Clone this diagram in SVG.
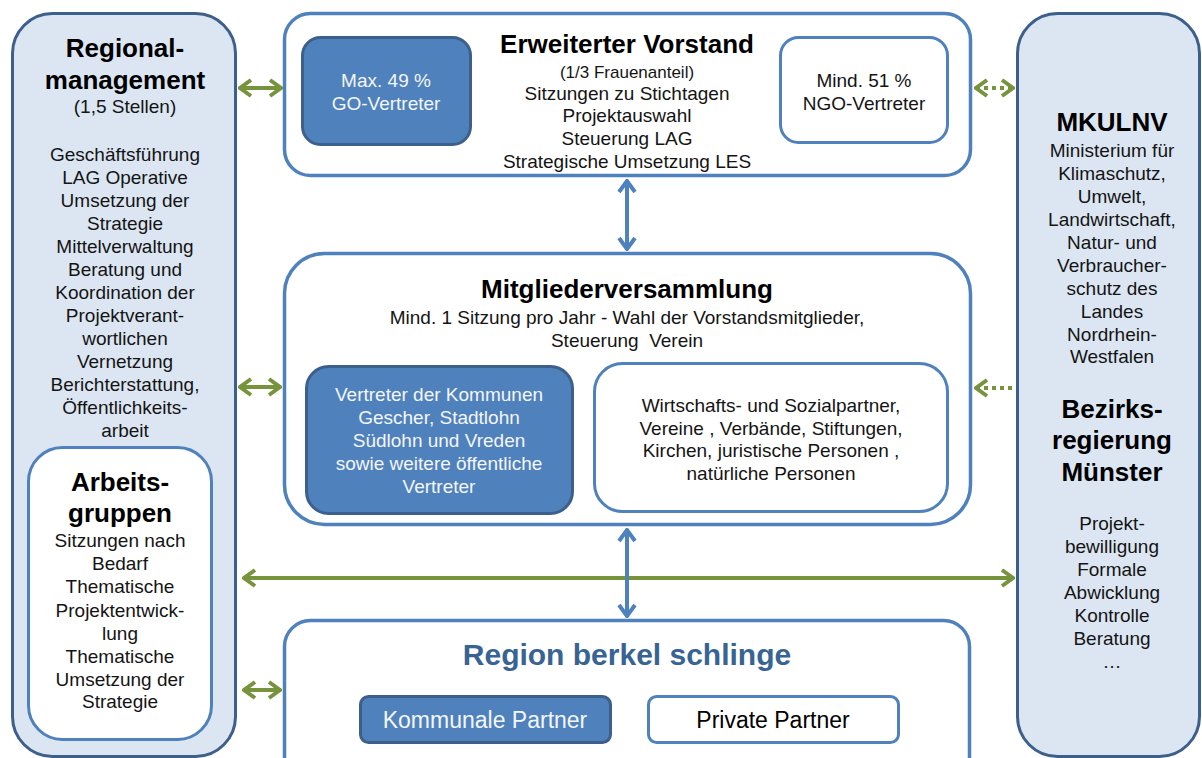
<svg xmlns="http://www.w3.org/2000/svg" width="1202" height="758" viewBox="0 0 1202 758">
<defs>
<style>
.side{fill:#dce6f2;stroke:#3c5f8b;stroke-width:3}
.frame{fill:#ffffff;stroke:#4f81bd;stroke-width:3.5}
.dark{fill:#4f81bd;stroke:#3c5f8b;stroke-width:3}
.light{fill:#ffffff;stroke:#4f81bd;stroke-width:3}
text{font-family:"Liberation Sans",Arial,sans-serif;text-anchor:middle;fill:#141414}
.t{font-size:26px;font-weight:bold;fill:#000}
.b{font-size:19px}
.s{font-size:17px}
.w{font-size:19px;fill:#f4f6fa}
.g{stroke:#77933c;stroke-width:4;fill:none}
.gd{stroke:#77933c;stroke-width:4;fill:none;stroke-dasharray:4 4}
.bl{stroke:#4f81bd;stroke-width:4;fill:none}
</style>
<marker id="ga" viewBox="-14 -10 16 20" markerWidth="16" markerHeight="20" markerUnits="userSpaceOnUse" refX="0" refY="0" orient="auto-start-reverse">
<path d="M-11,-8 L0,0 L-11,8" fill="none" stroke="#77933c" stroke-width="4"/>
</marker>
<marker id="ba" viewBox="-14 -10 16 20" markerWidth="16" markerHeight="20" markerUnits="userSpaceOnUse" refX="0" refY="0" orient="auto-start-reverse">
<path d="M-11,-8 L0,0 L-11,8" fill="none" stroke="#4f81bd" stroke-width="4"/>
</marker>
</defs>

<g id="regionalmanagement">
<rect class="side" x="12.5" y="13.5" width="223" height="743" rx="40"/>
<text class="t" x="125" y="57">Regional-</text>
<text class="t" x="125" y="89">management</text>
<text class="b" x="125" y="113">(1,5 Stellen)</text>
<text class="b" x="125" y="161">Geschäftsführung</text>
<text class="b" x="125" y="184">LAG Operative</text>
<text class="b" x="125" y="207">Umsetzung der</text>
<text class="b" x="125" y="230">Strategie</text>
<text class="b" x="125" y="253">Mittelverwaltung</text>
<text class="b" x="125" y="276">Beratung und</text>
<text class="b" x="125" y="299">Koordination der</text>
<text class="b" x="125" y="322">Projektverant-</text>
<text class="b" x="125" y="345">wortlichen</text>
<text class="b" x="125" y="368">Vernetzung</text>
<text class="b" x="125" y="391">Berichterstattung,</text>
<text class="b" x="125" y="414">Öffentlichkeits-</text>
<text class="b" x="125" y="437">arbeit</text>
</g>

<g id="arbeitsgruppen">
<rect class="light" x="28.5" y="447.5" width="183" height="292" rx="34"/>
<text class="t" x="120" y="491">Arbeits-</text>
<text class="t" x="120" y="522">gruppen</text>
<text class="b" x="120" y="547">Sitzungen nach</text>
<text class="b" x="120" y="570">Bedarf</text>
<text class="b" x="120" y="593">Thematische</text>
<text class="b" x="120" y="617">Projektentwick-</text>
<text class="b" x="120" y="640">lung</text>
<text class="b" x="120" y="663">Thematische</text>
<text class="b" x="120" y="686">Umsetzung der</text>
<text class="b" x="120" y="708">Strategie</text>
</g>

<g id="vorstand">
<rect class="frame" x="284.5" y="13.5" width="686" height="162" rx="26"/>
<text class="t" x="627" y="53">Erweiterter Vorstand</text>
<text class="s" x="627" y="78">(1/3 Frauenanteil)</text>
<text class="b" x="627" y="100">Sitzungen zu Stichtagen</text>
<text class="b" x="627" y="122">Projektauswahl</text>
<text class="b" x="627" y="145">Steuerung LAG</text>
<text class="b" x="627" y="168">Strategische Umsetzung LES</text>
</g>

<g id="go-vertreter">
<rect class="dark" x="302.5" y="37.5" width="168" height="107" rx="18"/>
<text class="w" x="386" y="87">Max. 49 %</text>
<text class="w" x="386" y="110">GO-Vertreter</text>
</g>

<g id="ngo-vertreter">
<rect class="light" x="780.5" y="37.5" width="167" height="105" rx="18"/>
<text class="b" x="864" y="87">Mind. 51 %</text>
<text class="b" x="864" y="110">NGO-Vertreter</text>
</g>

<g id="mitgliederversammlung">
<rect class="frame" x="284.5" y="253.5" width="686" height="271" rx="40"/>
<text class="t" x="627" y="298">Mitgliederversammlung</text>
<text class="b" x="627" y="324">Mind. 1 Sitzung pro Jahr - Wahl der Vorstandsmitglieder,</text>
<text class="b" x="627" y="347" xml:space="preserve">Steuerung  Verein</text>
</g>

<g id="kommunen-vertreter">
<rect class="dark" x="306.5" y="366.5" width="266" height="147" rx="22"/>
<text class="w" x="439" y="401">Vertreter der Kommunen</text>
<text class="w" x="439" y="424">Gescher, Stadtlohn</text>
<text class="w" x="439" y="447">Südlohn und Vreden</text>
<text class="w" x="439" y="470">sowie weitere öffentliche</text>
<text class="w" x="439" y="493">Vertreter</text>
</g>

<g id="wiso-partner">
<rect class="light" x="594.5" y="363.5" width="353" height="148" rx="28"/>
<text class="b" x="771" y="412">Wirtschafts- und Sozialpartner,</text>
<text class="b" x="771" y="435">Vereine , Verbände, Stiftungen,</text>
<text class="b" x="771" y="457">Kirchen, juristische Personen ,</text>
<text class="b" x="771" y="480">natürliche Personen</text>
</g>

<g id="region">
<rect class="frame" x="284.5" y="620.5" width="685" height="170" rx="26"/>
<text x="627" y="665" style="font-size:30px;font-weight:bold;fill:#386494">Region berkel schlinge</text>
</g>

<g id="kommunale-partner">
<rect class="dark" x="360.5" y="696.5" width="250" height="46" rx="8"/>
<text x="485" y="728" style="font-size:23px;fill:#f4f6fa">Kommunale Partner</text>
</g>

<g id="private-partner">
<rect class="light" x="648.5" y="696.5" width="250" height="46" rx="8"/>
<text x="773" y="728" style="font-size:23px;fill:#000">Private Partner</text>
</g>

<g id="mkulnv">
<rect class="side" x="1017.5" y="13.5" width="182" height="743" rx="40"/>
<text class="t" x="1112" y="131">MKULNV</text>
<text class="b" x="1112" y="157">Ministerium für</text>
<text class="b" x="1112" y="180">Klimaschutz,</text>
<text class="b" x="1112" y="203">Umwelt,</text>
<text class="b" x="1112" y="226">Landwirtschaft,</text>
<text class="b" x="1112" y="249">Natur- und</text>
<text class="b" x="1112" y="272">Verbraucher-</text>
<text class="b" x="1112" y="295">schutz des</text>
<text class="b" x="1112" y="318">Landes</text>
<text class="b" x="1112" y="341">Nordrhein-</text>
<text class="b" x="1112" y="363">Westfalen</text>
<text class="t" x="1112" y="418">Bezirks-</text>
<text class="t" x="1112" y="449">regierung</text>
<text class="t" x="1112" y="481">Münster</text>
<text class="b" x="1112" y="530">Projekt-</text>
<text class="b" x="1112" y="553">bewilligung</text>
<text class="b" x="1112" y="576">Formale</text>
<text class="b" x="1112" y="599">Abwicklung</text>
<text class="b" x="1112" y="622">Kontrolle</text>
<text class="b" x="1112" y="645">Beratung</text>
<text class="b" x="1112" y="668">…</text>
</g>

<g id="connectors">
<line class="g" x1="240" y1="88" x2="281" y2="88" marker-start="url(#ga)" marker-end="url(#ga)"/>
<line class="gd" x1="976" y1="88" x2="1013" y2="88" marker-start="url(#ga)" marker-end="url(#ga)"/>
<line class="g" x1="240" y1="387" x2="280" y2="387" marker-start="url(#ga)" marker-end="url(#ga)"/>
<line class="gd" x1="976" y1="388" x2="1015" y2="388" marker-start="url(#ga)"/>
<line class="g" x1="244" y1="578" x2="1013" y2="578" marker-start="url(#ga)" marker-end="url(#ga)"/>
<line class="g" x1="244" y1="690" x2="280" y2="690" marker-start="url(#ga)" marker-end="url(#ga)"/>
<line class="bl" x1="627" y1="181" x2="627" y2="249" marker-start="url(#ba)" marker-end="url(#ba)"/>
<line class="bl" x1="627" y1="530" x2="627" y2="616" marker-start="url(#ba)" marker-end="url(#ba)"/>
</g>
</svg>
